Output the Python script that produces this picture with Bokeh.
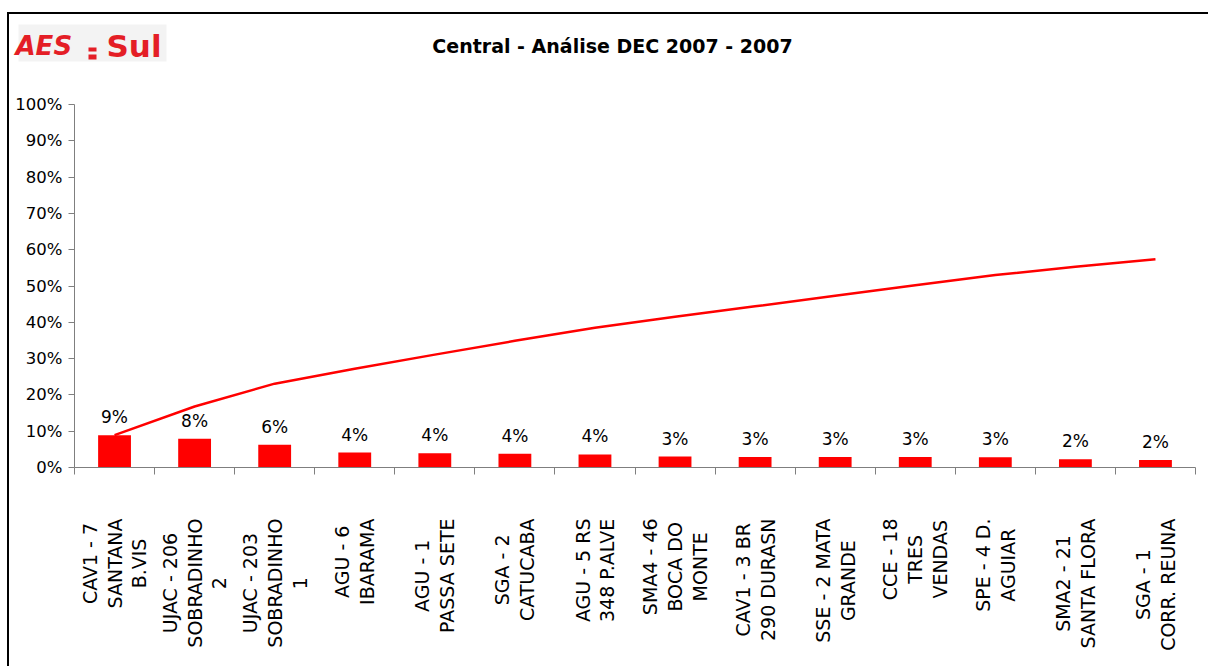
from bokeh.plotting import figure
from bokeh.layouts import column
from bokeh.models import Range1d, FixedTicker, ColumnDataSource, NumeralTickFormatter
from bokeh.core.properties import value
from bokeh.embed import file_html
from bokeh.resources import INLINE

# ---- data ----
categories = [
    "CAV1 - 7\nSANTANA\nB.VIS",
    "UJAC - 206\nSOBRADINHO\n2",
    "UJAC - 203\nSOBRADINHO\n1",
    "AGU - 6\nIBARAMA",
    "AGU - 1\nPASSA SETE",
    "SGA - 2\nCATUCABA",
    "AGU - 5 RS\n348 P.ALVE",
    "SMA4 - 46\nBOCA DO\nMONTE",
    "CAV1 - 3 BR\n290 DURASN",
    "SSE - 2 MATA\nGRANDE",
    "CCE - 18\nTRES\nVENDAS",
    "SPE - 4 D.\nAGUIAR",
    "SMA2 - 21\nSANTA FLORA",
    "SGA - 1\nCORR. REUNA",
]
share = [0.089, 0.079, 0.063, 0.041, 0.039, 0.038, 0.036, 0.030, 0.029, 0.029, 0.029, 0.028, 0.023, 0.021]
cumulative = [0.089, 0.168, 0.231, 0.272, 0.311, 0.349, 0.385, 0.415, 0.444, 0.473, 0.502, 0.530, 0.553, 0.574]
y_ticks = [0.0, 0.1, 0.2, 0.3, 0.4, 0.5, 0.6, 0.7, 0.8, 0.9, 1.0]
title_text = "Central - Análise DEC 2007 - 2007"
logo_left, logo_right = "AES", "Sul"

# ---- layout constants (canvas pixels) ----
W, H = 1208, 666
OX, OY = 9, 14            # content origin inside the black frame
FL, FR, FT, FB = 74, 1195, 104, 467
HEAD_B = 90               # header figure bottom
MAIN_B = 487              # main figure bottom
N = len(categories)
CW = W - OX

RED = "#ff0000"
LOGO = "#e41e26"
FONT = "DejaVu Sans"
AXC = "#7f7f7f"

def bare(fig):
    fig.xgrid.visible = False
    fig.ygrid.visible = False
    fig.outline_line_color = None
    fig.background_fill_color = "white"
    fig.border_fill_color = "white"
    fig.title.visible = False

def no_align(fig):
    try:
        fig.frame_align = False
    except Exception:
        pass

# ---- header: title + logo ----
hd = figure(width=CW, height=HEAD_B - OY, x_range=Range1d(OX, W), y_range=Range1d(HEAD_B, OY),
            x_axis_type=None, y_axis_type=None, output_backend="svg", toolbar_location=None,
            min_border=0)
bare(hd)
no_align(hd)
hd.quad(left=[18], right=[166], top=[24], bottom=[61], fill_color="#f3f3f3", line_color=None)
hd.quad(left=[88, 88], right=[96, 96], top=[47, 54], bottom=[51, 59], fill_color=LOGO, line_color=None)
hd.text(x=[15], y=[45], text=[logo_left], text_font=value(FONT), text_font_style="bold italic",
        text_font_size="26px", text_color=LOGO, text_baseline="alphabetic")
hd.text(x=[106], y=[45], text=[logo_right], text_font=value(FONT), text_font_style="bold",
        text_font_size="31px", text_color=LOGO, text_baseline="alphabetic")
hd.text(x=[612], y=[45], text=[title_text], text_font=value(FONT), text_font_style="bold",
        text_font_size="19px", text_color="black", text_align="center", text_baseline="middle")

# ---- main chart ----
xs = [i + 0.5 for i in range(N)]
p = figure(width=CW, height=MAIN_B - HEAD_B, x_range=Range1d(0, N), y_range=Range1d(0, 1),
           output_backend="svg", toolbar_location=None,
           min_border_left=FL - OX, min_border_right=W - FR,
           min_border_top=FT - HEAD_B, min_border_bottom=MAIN_B - FB)
bare(p)
no_align(p)

p.yaxis.ticker = FixedTicker(ticks=y_ticks)
p.yaxis.formatter = NumeralTickFormatter(format="0%")
p.yaxis.major_tick_out = 6
p.yaxis.major_tick_in = 0
p.yaxis.minor_tick_line_color = None
p.yaxis.axis_line_color = AXC
p.yaxis.major_tick_line_color = AXC
p.yaxis.major_label_text_font = FONT
p.yaxis.major_label_text_font_size = "16.5px"
p.yaxis.major_label_text_color = "black"
p.yaxis.major_label_standoff = 6

p.xaxis.ticker = FixedTicker(ticks=[], minor_ticks=list(range(N + 1)))
p.xaxis.major_tick_line_color = None
p.xaxis.minor_tick_out = 7
p.xaxis.minor_tick_in = 0
p.xaxis.minor_tick_line_color = AXC
p.xaxis.axis_line_color = AXC

labels = [f"{round(v * 100)}%" for v in share]
src = ColumnDataSource(dict(x=xs, share=share, cum=cumulative, lab=labels))

p.vbar(x="x", top="share", width=0.41, source=src, fill_color=RED, line_color=None)
p.line(x="x", y="cum", source=src, line_color=RED, line_width=2.5)
p.text(x="x", y="share", text="lab", source=src, text_align="center", text_baseline="middle",
       y_offset=-18, text_font=value(FONT), text_font_size="17px", text_color="black")

# ---- category labels (vertical, multi-line, centred lines); same frame as main chart ----
lb = figure(width=CW, height=H - MAIN_B, x_range=p.x_range, y_range=Range1d(H, MAIN_B),
            x_axis_type=None, y_axis_type=None, output_backend="svg", toolbar_location=None,
            min_border_left=FL - OX, min_border_right=W - FR, min_border_top=0, min_border_bottom=0)
bare(lb)
no_align(lb)
lsrc = ColumnDataSource(dict(x=xs, y=[518] * N, cat=categories))
lb.text(x="x", y="y", text="cat", source=lsrc, angle=1.5707963267948966, anchor="center_right",
        text_align="center", text_font=value(FONT), text_font_size="19px", text_color="black",
        text_line_height=1.13)

layout = column(hd, p, lb, spacing=0,
                styles={"margin-left": "7px", "margin-top": "12px",
                        "border-left": "2px solid black", "border-top": "2px solid black"})

open("out.html", "w").write(file_html(layout, INLINE))
